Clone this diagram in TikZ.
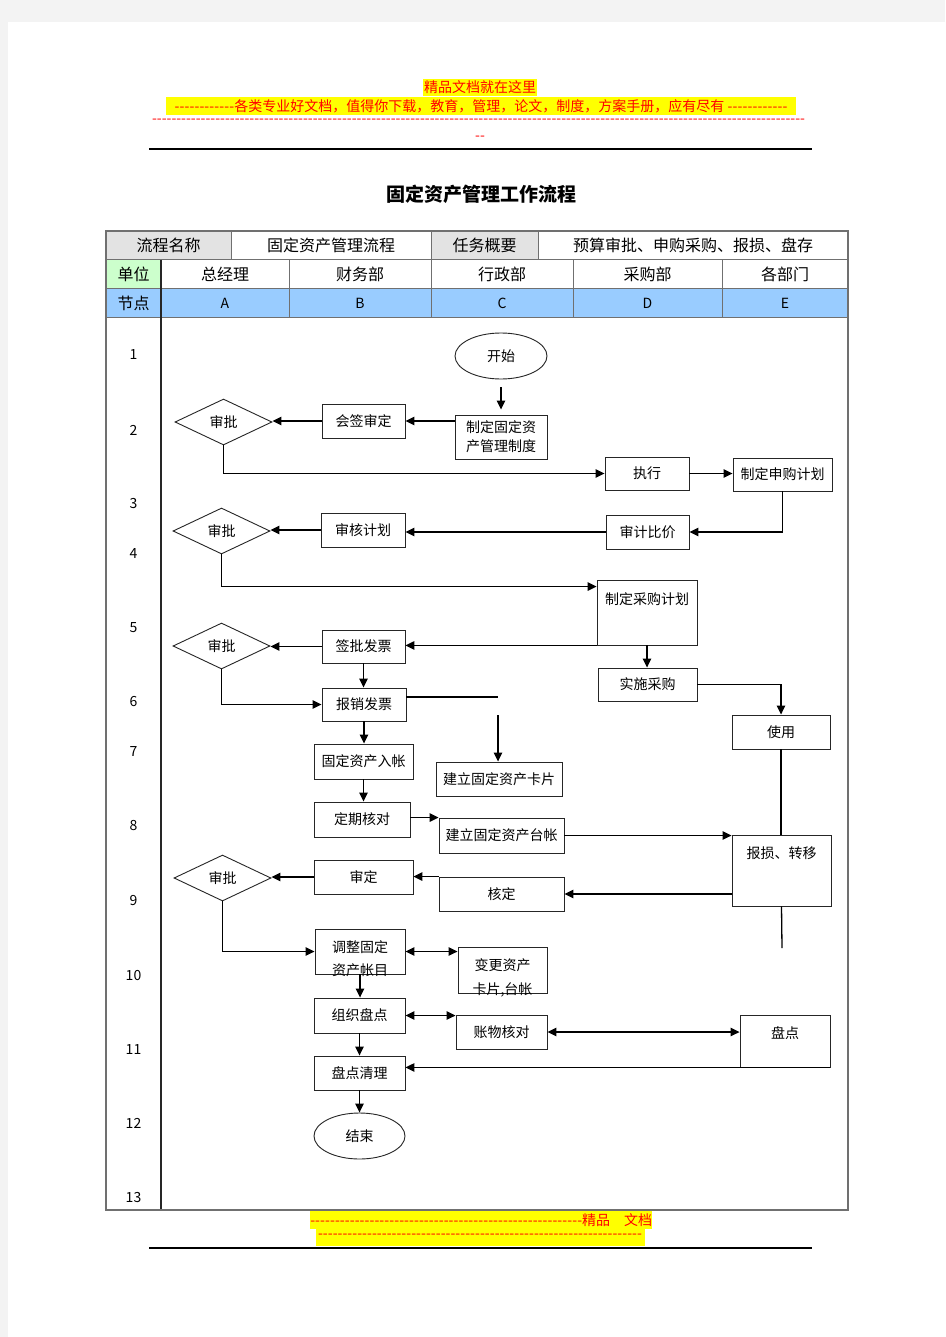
\documentclass[tikz,border=0pt]{standalone}
\usepackage{fontspec}
\setmainfont{Noto Sans CJK SC}
\usetikzlibrary{shapes.geometric,arrows.meta,calc}
\definecolor{hdrgray}{HTML}{E3E3E3}
\definecolor{hdrgreen}{HTML}{CCFFCC}
\definecolor{hdrblue}{HTML}{99CCFF}
\definecolor{pagebg}{HTML}{F3F3F3}
\definecolor{hlyellow}{HTML}{FFFF00}
\definecolor{hlred}{HTML}{FF0000}
\definecolor{linegray}{HTML}{707070}
\newcommand\myNodeFont{\fontsize{14pt}{19pt}\selectfont}
\newcommand\myHeadFont{\fontsize{16pt}{19pt}\selectfont}
\newcommand\myDashes[1]{\makebox[#1]{\xleaders\hbox{-}\hfill}}
\tikzset{
  box/.style={draw=black!85, line width=0.9pt, fill=white, inner sep=0pt, font=\myNodeFont},
  dia/.style={diamond, draw=black!85, line width=0.9pt, fill=white, inner sep=0pt, font=\myNodeFont, minimum width=97pt, minimum height=46pt},
  ell/.style={ellipse, draw=black!85, line width=0.9pt, fill=white, inner sep=0pt, font=\myNodeFont},
  txt/.style={inner sep=0pt, font=\myNodeFont},
  hd/.style={inner sep=0pt, font=\myHeadFont},
  redtxt/.style={inner sep=0pt, text=hlred, font=\fontsize{14pt}{16pt}\selectfont},
  arr/.style={line width=1.3pt, -{Triangle[length=9pt,width=8.5pt]}},
  darr/.style={line width=1.3pt, {Triangle[length=9pt,width=8.5pt]}-{Triangle[length=9pt,width=8.5pt]}},
  ln/.style={line width=1.3pt},
  tline/.style={draw=linegray, line width=1pt}
}
\begin{document}
\begin{tikzpicture}[x=1pt,y=-1pt]
\useasboundingbox (0,0) rectangle (945,1337);
\fill[pagebg] (0,0) rectangle (945,1337);
\fill[white] (8,22) rectangle (945,1337);

% page header
\fill[hlyellow] (423,79) rectangle (537,96);
\node[redtxt] (hdr1) at (480,87) {精品文档就在这里};
\fill[hlyellow] (166,97) rectangle (796,115);
\node[redtxt] (hdr2) at (481,106) {\myDashes{60pt}各类专业好文档，值得你下载，教育，管理，论文，制度，方案手册，应有尽有\ \myDashes{60pt}};
\node[redtxt] (hdr3) at (478.5,121) {\myDashes{653pt}};
\node[redtxt] (hdr4) at (480,138) {-{}-};
\draw[line width=1.4pt] (149,149) -- (812,149);

\node[inner sep=0pt, font=\fontsize{19pt}{22pt}\selectfont\bfseries] (title) at (481,194) {固定资产管理工作流程};

% table
\fill[hdrgray] (106,231) rectangle (231,260);
\fill[hdrgray] (431,231) rectangle (538,260);
\fill[hdrgreen] (106,260) rectangle (161,289);
\fill[hdrblue] (106,289) rectangle (848,317);
\draw[tline] (106,260) -- (848,260);
\draw[tline] (106,289) -- (848,289);
\draw[tline] (106,317) -- (848,317);
\foreach \xx in {231,431,538} \draw[tline] (\xx,231) -- (\xx,260);
\foreach \xx in {289,431,573,722} \draw[tline] (\xx,260) -- (\xx,317);
\draw[draw=black!85, line width=2pt] (161,260) -- (161,1210);
\draw[draw=linegray, line width=1.6pt] (106,231) rectangle (848,1210);

\node[hd] (t1) at (168.5,245) {流程名称};
\node[hd] (t2) at (331,245) {固定资产管理流程};
\node[hd] (t3) at (484.5,245) {任务概要};
\node[hd] (t4) at (693,245) {预算审批、申购采购、报损、盘存};
\node[hd] (u0) at (133.5,274) {单位};
\node[hd] (u1) at (225,274) {总经理};
\node[hd] (u2) at (360,274) {财务部};
\node[hd] (u3) at (502,274) {行政部};
\node[hd] (u4) at (647.5,274) {采购部};
\node[hd] (u5) at (785,274) {各部门};
\node[hd] (p0) at (133.5,303) {节点};
\node[txt] (pA) at (225,303) {A};
\node[txt] (pB) at (360,303) {B};
\node[txt] (pC) at (502,303) {C};
\node[txt] (pD) at (647.5,303) {D};
\node[txt] (pE) at (785,303) {E};

\foreach \nn/\yy in {1/355,2/430,3/504,4/554,5/628,6/702,7/752,8/826,9/900,10/975,11/1049,12/1123,13/1197}
  \node[txt] (num\nn) at (133.5,\yy) {\nn};

% flow nodes
\node[ell, minimum width=92pt, minimum height=46pt] (start) at (501,356) {开始};
\node[box, minimum width=92pt, minimum height=44pt, align=center] (zhiding) at (501,437) {制定固定资\\产管理制度};
\node[box, minimum width=83pt, minimum height=34pt] (huiqian) at (363.5,421) {会签审定};
\node[dia] (d1) at (223.5,422) {审批};
\node[box, minimum width=84pt, minimum height=33pt] (zhixing) at (647,473.5) {执行};
\node[box, minimum width=99pt, minimum height=33pt] (shengou) at (782.5,474.5) {制定申购计划};
\node[box, minimum width=83pt, minimum height=34pt] (shenji) at (647.5,532) {审计比价};
\node[box, minimum width=84pt, minimum height=34pt] (shenhe) at (363,530) {审核计划};
\node[dia] (d2) at (221.5,531) {审批};
\node[box, minimum width=100pt, text height=24.3pt, text depth=40.7pt] (caigou) at (647,612.5) {制定采购计划};
\node[box, minimum width=83pt, minimum height=33pt] (qianpi) at (363.5,646.5) {签批发票};
\node[dia] (d3) at (221.5,646) {审批};
\node[box, minimum width=99pt, minimum height=33pt] (shishi) at (647.5,684.5) {实施采购};
\node[box, minimum width=98pt, minimum height=34pt] (shiyong) at (781,732) {使用};
\node[box, minimum width=84pt, minimum height=33pt] (baoxiao) at (364,704.5) {报销发票};
\node[box, minimum width=126pt, minimum height=34pt] (kapian) at (499,779) {建立固定资产卡片};
\node[box, minimum width=99pt, minimum height=35pt] (ruzhang) at (363.5,761.5) {固定资产入帐};
\node[box, minimum width=96pt, minimum height=35pt] (hedui) at (362,819.5) {定期核对};
\node[box, minimum width=125pt, minimum height=35pt] (taizhang) at (501.5,835.5) {建立固定资产台帐};
\node[box, minimum width=99pt, text height=23.3pt, text depth=47.7pt] (baosun) at (781.5,870.5) {报损、转移};
\node[box, minimum width=125pt, minimum height=34pt] (heding) at (501.5,894) {核定};
\node[box, minimum width=99pt, minimum height=34pt] (shending) at (363.5,877) {审定};
\node[dia] (d4) at (222.5,878) {审批};
\node[box, minimum width=90pt, minimum height=45pt] (tiaozheng) at (360,951.5) {};
\node[box, minimum width=89pt, minimum height=46pt] (biangeng) at (502.5,970) {};
\node[box, minimum width=91pt, minimum height=35pt] (zuzhi) at (359.5,1015.5) {组织盘点};
\node[box, minimum width=91pt, minimum height=34pt] (zhangwu) at (501.5,1032) {账物核对};
\node[box, minimum width=90pt, text height=23.3pt, text depth=28.7pt] (pandian) at (785,1041) {盘点};
\node[box, minimum width=91pt, minimum height=34pt] (qingli) at (359.5,1073) {盘点清理};
\node[ell, minimum width=91pt, minimum height=46pt] (end) at (359.5,1136) {结束};
\node[txt, align=center, font=\fontsize{14pt}{23pt}\selectfont] (tiaozhengtxt) at (360,958.5) {调整固定\\资产帐目};
\node[txt, align=center, font=\fontsize{14pt}{24pt}\selectfont] (biangengtxt) at (502.5,978) {变更资产\\卡片,台帐};

% coordinates of free ends
\coordinate (bx1) at (498,697);
\coordinate (bx2) at (498,715);
\coordinate (bsend) at (782,948);

% connectors
\draw[arr] ($(start.south)+(0,8)$) -- ($(zhiding.north)+(0,-5)$);
\draw[arr] (zhiding.west |- huiqian) -- (huiqian.east);
\draw[arr] (huiqian.west) -- (huiqian.west -| d1.east);
\draw[arr] (d1.south) |- (zhixing.west);
\draw[arr] (zhixing.east) -- (zhixing.east -| shengou.west);
\draw[arr] (shengou.south) |- (shenji.east);
\draw[arr] (shenji.west) -- (shenji.west -| shenhe.east);
\draw[arr] (shenhe.west) -- (shenhe.west -| d2.east);
\draw[arr] (d2.south) |- ($(caigou.north west)+(0,7)$);
\draw[arr] (caigou.south west) -- (caigou.south west -| qianpi.east);
\draw[arr] (qianpi.west) -- (qianpi.west -| d3.east);
\draw[arr] (caigou.south) -- (caigou.south |- shishi.north);
\draw[arr] (shishi.east) -| (shiyong.north);
\draw[arr] (qianpi.south) -- (qianpi.south |- baoxiao.north);
\draw[arr] (d3.south) |- (baoxiao.west);
\draw[ln] (baoxiao.east |- bx1) -- (bx1);
\draw[arr] (bx2) -- (bx2 |- kapian.north);
\draw[arr] (baoxiao.south) -- (baoxiao.south |- ruzhang.north);
\draw[arr] (ruzhang.south) -- (ruzhang.south |- hedui.north);
\draw[arr] (hedui.east |- taizhang.north west) -- (taizhang.north west);
\draw[arr] (taizhang.east) -- (taizhang.east -| baosun.west);
\draw[ln] (shiyong.south) -- (shiyong.south |- baosun.north);
\draw[ln] (baosun.south) -- (bsend);
\draw[arr] (baosun.west |- heding.east) -- (heding.east);
\draw[arr] (heding.north west) -- (heding.north west -| shending.east);
\draw[arr] (shending.west) -- (shending.west -| d4.east);
\draw[arr] (d4.south) |- (tiaozheng.west);
\draw[darr] (tiaozheng.east) -- (tiaozheng.east -| biangeng.west);
\draw[arr] (tiaozheng.south) -- (tiaozheng.south |- zuzhi.north);
\draw[darr] (zuzhi.east) -- (zuzhi.east -| zhangwu.west);
\draw[darr] (zhangwu.east) -- (zhangwu.east -| pandian.west);
\draw[arr] (pandian.south east) -- (pandian.south east -| qingli.east);
\draw[arr] (zuzhi.south) -- (zuzhi.south |- qingli.north);
\draw[arr] (qingli.south) -- (qingli.south |- end.north);

% page footer
\fill[hlyellow] (310,1211) rectangle (652,1229);
\node[redtxt, anchor=west] (ftr1) at (310,1220) {\myDashes{272pt}精品\hspace{14pt}文档};
\fill[hlyellow] (316,1229) rectangle (645,1246);
\node[redtxt] (ftr2) at (480,1236) {\myDashes{324pt}};
\draw[line width=2pt] (149,1248) -- (812,1248);
\end{tikzpicture}
\end{document}
